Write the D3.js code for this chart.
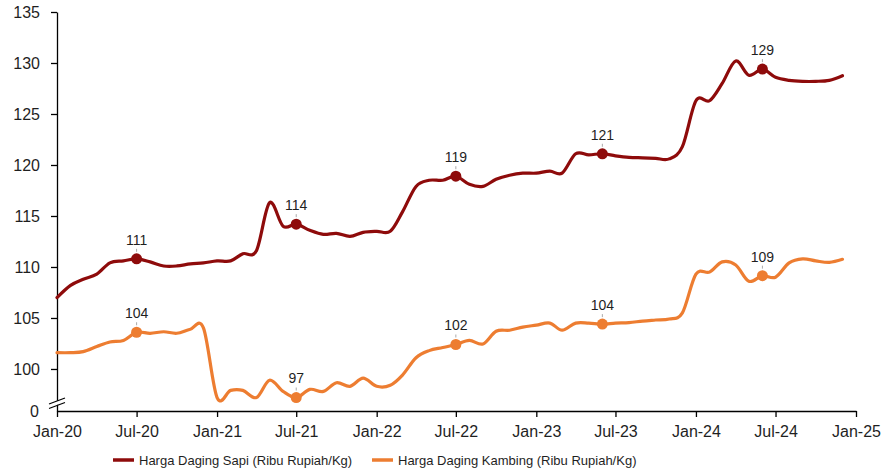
<!DOCTYPE html>
<html>
<head>
<meta charset="utf-8">
<script src="https://cdn.jsdelivr.net/npm/d3@7"></script>
<style>
  html, body { margin: 0; padding: 0; background: #fff; }
  svg { display: block; font-family: "Liberation Sans", Arial, sans-serif; }
</style>
</head>
<body>
<svg id="chart" width="883" height="470"></svg>
<script>
// ---- data ----
const startMonth = new Date(2020, 0, 1);
const endMonth = new Date(2025, 0, 1);
const seriesNames = ["Harga Daging Sapi (Ribu Rupiah/Kg)", "Harga Daging Kambing (Ribu Rupiah/Kg)"];
const sapi = [107.0,108.2,108.8,109.3,110.4,110.6,110.8,110.5,110.1,110.1,
              110.3,110.4,110.6,110.6,111.3,111.6,116.3,114.0,114.2,113.6,
              113.2,113.3,113.0,113.4,113.5,113.5,115.4,117.9,118.5,118.5,
              118.9,118.1,117.9,118.6,119.0,119.2,119.2,119.4,119.2,121.1,
              121.0,121.1,120.9,120.75,120.7,120.65,120.6,121.8,126.3,126.3,
              128.0,130.2,128.8,129.4,128.6,128.3,128.2,128.2,128.3,128.75];
const kambing = [101.6,101.6,101.7,102.2,102.65,102.8,103.6,103.5,103.65,103.5,
                 103.9,104.0,97.2,97.9,97.9,97.2,98.9,97.8,97.2,98.0,
                 97.8,98.65,98.3,99.1,98.3,98.4,99.4,101.1,101.8,102.1,
                 102.4,102.8,102.45,103.7,103.8,104.1,104.3,104.5,103.8,104.5,
                 104.5,104.4,104.5,104.55,104.7,104.8,104.9,105.5,109.3,109.5,
                 110.5,110.2,108.6,109.15,109.0,110.4,110.8,110.6,110.45,110.75];
const labelIdx = [6, 18, 30, 41, 53];
const yTicks = [100, 105, 110, 115, 120, 125, 130, 135];
const yBreakLabel = "0";
const colors = ["#8E0B0B", "#ED7D31"];

// ---- layout ----
const svg = d3.select("#chart");
const months = d3.timeMonth.range(startMonth, endMonth);
const x = d3.scaleTime().domain([startMonth, endMonth]).range([57, 856]);
const y = d3.scaleLinear().domain([95.88, 135]).range([411, 12]);
const textColor = "#1f1f1f";

// x axis
const xTickVals = d3.timeMonth.every(6).range(startMonth, d3.timeMonth.offset(endMonth, 1));
const xAxis = svg.append("g").attr("transform", "translate(0,411)")
  .call(d3.axisBottom(x).tickValues(xTickVals).tickFormat(d3.timeFormat("%b-%y")).tickSize(6).tickPadding(9).tickSizeOuter(0));
xAxis.select(".domain").attr("stroke", "#000").attr("stroke-width", 1.3);
xAxis.selectAll(".tick line").attr("stroke", "#000").attr("stroke-width", 1.3);
xAxis.selectAll("text").attr("font-size", 16).attr("fill", textColor).attr("font-family", "Liberation Sans, Arial, sans-serif");

// y axis
const yAxis = svg.append("g").attr("transform", "translate(57,0)")
  .call(d3.axisLeft(y).tickValues(yTicks).tickSize(6).tickPadding(11).tickSizeOuter(0));
yAxis.select(".domain").attr("stroke", "#000").attr("stroke-width", 1.3);
yAxis.selectAll(".tick line").attr("stroke", "#000").attr("stroke-width", 1.3);
yAxis.selectAll("text").attr("font-size", 16).attr("fill", textColor).attr("font-family", "Liberation Sans, Arial, sans-serif");

// "0" label and axis break
svg.append("text").attr("x", 39).attr("y", y(95.88)).attr("dy", "0.35em")
  .attr("text-anchor", "end").attr("font-size", 16).attr("fill", textColor).text(yBreakLabel);
const brk = svg.append("g");
brk.append("polygon").attr("points", "49,404 65,398 65,402 49,408").attr("fill", "#fff");
brk.append("line").attr("x1", 49).attr("y1", 404).attr("x2", 65).attr("y2", 398).attr("stroke", "#000").attr("stroke-width", 1.2);
brk.append("line").attr("x1", 49).attr("y1", 408.5).attr("x2", 65).attr("y2", 402.5).attr("stroke", "#000").attr("stroke-width", 1.2);

// lines
const line = d3.line().x((d, i) => x(months[i])).y(d => y(d)).curve(d3.curveCatmullRom.alpha(0));
[sapi, kambing].forEach((s, k) => {
  svg.append("path").datum(s).attr("d", line).attr("fill", "none")
    .attr("stroke", colors[k]).attr("stroke-width", 3.2).attr("stroke-linejoin", "round").attr("stroke-linecap", "round");
  const g = svg.append("g");
  labelIdx.forEach(i => {
    const px = x(months[i]), py = y(s[i]);
    g.append("line").attr("x1", px).attr("x2", px).attr("y1", py - 10).attr("y2", py - 7)
      .attr("stroke", "#aaa").attr("stroke-width", 1);
    g.append("circle").attr("cx", px).attr("cy", py).attr("r", 5.5).attr("fill", colors[k]);
    g.append("text").attr("x", px).attr("y", py - 19).attr("dy", "0.35em").attr("text-anchor", "middle")
      .attr("font-size", 14).attr("fill", textColor).text(d3.format(".0f")(s[i]));
  });
});

// legend
const legendX = [113, 372];
seriesNames.forEach((n, k) => {
  const lg = svg.append("g").attr("transform", `translate(${legendX[k]},460)`);
  lg.append("line").attr("x1", 0).attr("x2", 21).attr("y1", 0).attr("y2", 0)
    .attr("stroke", colors[k]).attr("stroke-width", 3.5);
  lg.append("text").attr("x", 26).attr("y", 0).attr("dy", "0.35em").attr("font-size", 13)
    .attr("fill", textColor).text(n);
});
</script>
</body>
</html>
